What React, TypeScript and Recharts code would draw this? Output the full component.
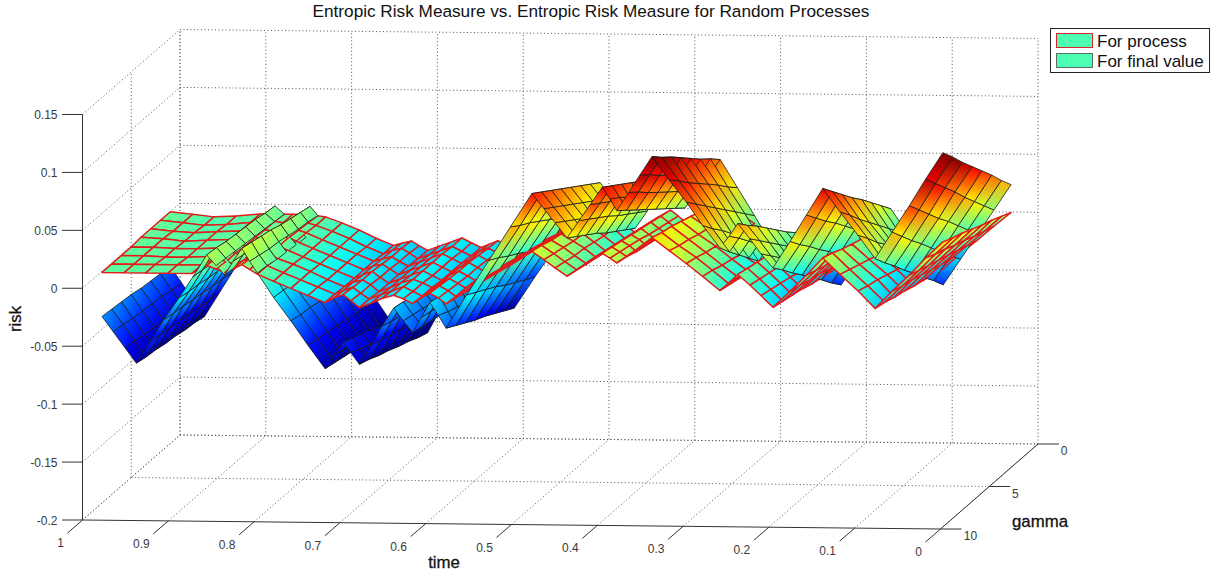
import { ScatterChart, Scatter, XAxis, YAxis } from 'recharts'

const WIDTH = 1221
const HEIGHT = 573

const TITLE = 'Entropic Risk Measure vs. Entropic Risk Measure for Random Processes'
const LEGEND_LABELS = ['For process', 'For final value']
const TIME_TICKS = [1, 0.9, 0.8, 0.7, 0.6, 0.5, 0.4, 0.3, 0.2, 0.1, 0]
const GAMMA_TICKS = [0, 5, 10]
const RISK_TICKS = [-0.2, -0.15, -0.1, -0.05, 0, 0.05, 0.1, 0.15]
const GAMMAS = [1, 2, 3, 4, 5, 6, 7, 8]

const FINAL_TIMES = [
  1, 0.987, 0.973, 0.96, 0.944, 0.928, 0.91, 0.894, 0.878, 0.867, 0.857, 0.847, 0.837, 0.828, 0.819, 0.8, 0.78,
  0.76, 0.74, 0.73, 0.719, 0.71, 0.7, 0.686, 0.674, 0.66, 0.649, 0.638, 0.628, 0.618, 0.608, 0.599, 0.575, 0.549,
  0.524, 0.499, 0.485, 0.472, 0.458, 0.444, 0.431, 0.417, 0.408, 0.4, 0.386, 0.373, 0.359, 0.339, 0.319, 0.3, 0.28,
  0.269, 0.259, 0.245, 0.232, 0.218, 0.198, 0.179, 0.16, 0.14, 0.119, 0.099, 0.079, 0.059, 0.04, 0.02,
]

const PROCESS_TIMES = [
  1, 0.974, 0.949, 0.923, 0.895, 0.878, 0.867, 0.857, 0.847, 0.837, 0.828, 0.819, 0.8, 0.78, 0.76, 0.74, 0.73,
  0.719, 0.71, 0.7, 0.686, 0.674, 0.66, 0.649, 0.638, 0.628, 0.618, 0.608, 0.599, 0.575, 0.549, 0.524, 0.499, 0.485,
  0.472, 0.458, 0.444, 0.431, 0.417, 0.408, 0.4, 0.386, 0.373, 0.359, 0.339, 0.319, 0.3, 0.28, 0.269, 0.259, 0.245,
  0.232, 0.218, 0.198, 0.179, 0.16, 0.14, 0.119, 0.099, 0.079, 0.059, 0.04, 0.02,
]

// risk x 1000, one row per time, one column per gamma
const FINAL_RISK = [
  [-47, -46, -45, -44, -42, -41, -40, -39],
  [-61, -60, -58, -57, -56, -55, -53, -52],
  [-76, -75, -73, -72, -70, -69, -67, -66],
  [-90, -88, -87, -85, -84, -82, -81, -79],
  [-71, -69, -68, -66, -65, -63, -62, -60],
  [-52, -50, -49, -47, -46, -44, -43, -41],
  [-33, -31, -30, -28, -27, -25, -24, -22],
  [-13, -12, -10, -9, -8, -7, -5, -4],
  [6, 7, 9, 10, 11, 12, 14, 15],
  [-1, 0, 1, 2, 3, 4, 5, 6],
  [-8, -7, -6, -5, -5, -4, -3, -2],
  [-1, 1, 2, 4, 5, 7, 8, 10],
  [6, 8, 10, 12, 15, 17, 19, 21],
  [-2, 0, 1, 3, 5, 6, 8, 10],
  [-9, -8, -6, -5, -4, -3, -1, 0],
  [-31, -30, -28, -27, -25, -24, -22, -21],
  [-52, -50, -49, -47, -46, -44, -43, -41],
  [-74, -72, -71, -69, -67, -65, -64, -62],
  [-96, -94, -92, -90, -88, -86, -84, -82],
  [-90, -87, -84, -81, -79, -76, -73, -70],
  [-85, -81, -78, -74, -70, -66, -63, -59],
  [-93, -89, -86, -82, -79, -75, -72, -68],
  [-102, -99, -95, -92, -88, -85, -81, -78],
  [-83, -80, -77, -74, -70, -67, -64, -61],
  [-64, -61, -59, -56, -53, -50, -48, -45],
  [-45, -43, -40, -38, -36, -34, -31, -29],
  [-55, -53, -51, -49, -46, -44, -42, -40],
  [-65, -63, -61, -59, -56, -54, -52, -50],
  [-52, -50, -48, -46, -43, -41, -39, -37],
  [-40, -38, -35, -33, -31, -29, -26, -24],
  [-60, -56, -53, -49, -46, -42, -39, -35],
  [-80, -75, -70, -65, -61, -56, -51, -46],
  [-53, -48, -43, -38, -32, -27, -22, -17],
  [-25, -20, -14, -9, -3, 2, 8, 13],
  [2, 8, 13, 19, 25, 31, 36, 42],
  [29, 35, 41, 47, 53, 59, 65, 71],
  [16, 22, 28, 34, 40, 46, 52, 58],
  [3, 9, 15, 21, 28, 34, 40, 46],
  [-10, -4, 2, 8, 15, 21, 27, 33],
  [5, 11, 17, 23, 30, 36, 42, 48],
  [20, 26, 32, 38, 44, 50, 56, 62],
  [35, 41, 47, 53, 59, 65, 71, 77],
  [22, 28, 35, 41, 48, 54, 61, 67],
  [8, 15, 22, 29, 36, 43, 50, 57],
  [22, 29, 37, 44, 51, 58, 66, 73],
  [36, 43, 51, 58, 66, 73, 81, 88],
  [50, 58, 65, 73, 81, 89, 96, 104],
  [26, 34, 43, 51, 59, 67, 76, 84],
  [2, 11, 20, 29, 38, 47, 56, 65],
  [-22, -12, -3, 7, 16, 26, 35, 45],
  [-46, -36, -25, -15, -5, 5, 15, 26],
  [-30, -21, -11, -2, 7, 17, 27, 36],
  [-14, -5, 3, 12, 21, 30, 38, 47],
  [-28, -19, -10, -2, 7, 16, 25, 34],
  [-43, -34, -25, -16, -6, 3, 12, 21],
  [-57, -48, -38, -29, -19, -10, 0, 9],
  [-35, -25, -16, -6, 3, 13, 22, 32],
  [-13, -3, 6, 16, 26, 35, 45, 55],
  [9, 19, 29, 39, 48, 58, 68, 78],
  [-13, -3, 7, 17, 27, 37, 48, 58],
  [-34, -24, -13, -3, 8, 17, 28, 38],
  [-56, -45, -35, -24, -14, -3, 7, 18],
  [-34, -23, -13, -2, 9, 19, 30, 41],
  [-12, -1, 10, 21, 31, 42, 53, 64],
  [9, 20, 31, 42, 54, 65, 76, 87],
  [31, 42, 54, 65, 76, 87, 99, 110],
]

const PROCESS_RISK = [
  [0, 0, 0, 0, -1, -1, -1, -1],
  [-2, -2, -2, -1, -1, -1, -1, -1],
  [-4, -4, -3, -3, -2, -2, -1, -1],
  [-3, -3, -2, -2, -2, -2, -1, -1],
  [-1, -1, -1, -1, -1, -1, -1, -1],
  [0, 1, 2, 3, 3, 4, 5, 6],
  [-1, 0, 0, 1, 1, 2, 2, 3],
  [-1, -1, -1, -1, -1, 0, 0, 0],
  [-1, 0, 0, 1, 2, 2, 3, 3],
  [-1, 0, 1, 2, 3, 4, 6, 7],
  [-2, -1, 0, 1, 1, 2, 2, 3],
  [-3, -3, -2, -2, -2, -2, -1, -1],
  [-8, -8, -8, -8, -8, -7, -7, -7],
  [-14, -14, -14, -14, -14, -13, -13, -13],
  [-21, -21, -20, -20, -20, -20, -19, -19],
  [-27, -27, -26, -26, -26, -26, -25, -25],
  [-25, -24, -24, -23, -23, -22, -22, -21],
  [-23, -22, -22, -21, -20, -20, -19, -18],
  [-27, -26, -26, -25, -25, -24, -24, -23],
  [-31, -31, -30, -30, -30, -30, -29, -29],
  [-27, -27, -26, -26, -26, -26, -25, -25],
  [-24, -24, -23, -23, -23, -22, -22, -21],
  [-20, -20, -19, -19, -19, -19, -18, -18],
  [-24, -24, -23, -23, -23, -22, -22, -21],
  [-28, -28, -27, -27, -27, -26, -26, -25],
  [-25, -24, -24, -23, -22, -22, -21, -20],
  [-22, -21, -20, -19, -19, -18, -17, -16],
  [-26, -25, -24, -23, -23, -22, -21, -20],
  [-29, -28, -28, -27, -27, -26, -26, -25],
  [-21, -20, -19, -18, -17, -16, -15, -14],
  [-12, -11, -9, -8, -6, -5, -3, -2],
  [-3, -1, 0, 2, 4, 6, 7, 9],
  [5, 7, 10, 12, 14, 16, 19, 21],
  [1, 3, 5, 7, 8, 10, 12, 14],
  [-5, -3, -2, 0, 2, 3, 5, 7],
  [-14, -12, -10, -8, -6, -4, -2, 0],
  [-7, -5, -3, -1, 1, 3, 5, 7],
  [0, 2, 4, 6, 8, 10, 12, 14],
  [6, 8, 10, 12, 14, 16, 18, 20],
  [1, 3, 5, 7, 10, 12, 14, 16],
  [-4, -2, 1, 3, 5, 7, 10, 12],
  [2, 4, 7, 9, 12, 14, 17, 19],
  [9, 11, 14, 16, 19, 21, 24, 26],
  [15, 18, 20, 23, 26, 29, 31, 34],
  [5, 8, 10, 13, 15, 18, 20, 23],
  [-5, -3, 0, 2, 5, 7, 10, 12],
  [-15, -13, -11, -9, -6, -4, -1, 1],
  [-25, -23, -21, -19, -17, -15, -13, -11],
  [-18, -16, -14, -12, -10, -8, -6, -4],
  [-12, -10, -8, -6, -3, -1, 1, 3],
  [-21, -19, -17, -15, -12, -10, -8, -6],
  [-30, -28, -26, -24, -21, -19, -17, -15],
  [-40, -38, -36, -34, -31, -29, -27, -25],
  [-28, -26, -23, -21, -18, -16, -13, -11],
  [-17, -14, -12, -9, -6, -3, 0, 3],
  [-5, -2, 1, 5, 8, 11, 15, 18],
  [-17, -14, -11, -8, -5, -2, 1, 4],
  [-29, -26, -24, -21, -18, -15, -13, -10],
  [-42, -40, -37, -35, -32, -30, -27, -25],
  [-29, -26, -24, -21, -18, -15, -13, -10],
  [-17, -14, -11, -8, -5, -2, 1, 4],
  [-5, -2, 1, 5, 8, 12, 15, 19],
  [7, 11, 15, 18, 22, 26, 29, 33],
]

// fixed 3d view of the plot box, flattened to chart units
function project(t: number, g: number, r: number) {
  return {
    x: 82.5 + (1 - t) * 858 + (10 - g) * 9.75,
    y: 520 + (1 - t) * 9 - (10 - g) * 8.5 - (r + 0.2) * 1158.6,
  }
}

function jet(r: number) {
  const p = Math.min(1, Math.max(0, (r + 0.088) / 0.186))
  const c = (v: number) => Math.round(255 * Math.min(1, Math.max(0, 1.5 - Math.abs(4 * p - v))))
  return `rgb(${c(3)},${c(2)},${c(1)})`
}

type Cell = { risks: number[]; stroke: string; width: number; depth: number; corners: { x: number; y: number }[] }

function buildCells(times: number[], rows: number[][], stroke: string, width: number): Cell[] {
  const cells: Cell[] = []
  for (let i = 0; i < times.length - 1; i++) {
    for (let j = 0; j < GAMMAS.length - 1; j++) {
      const verts: [number, number, number][] = [
        [times[i], GAMMAS[j], rows[i][j] / 1000],
        [times[i + 1], GAMMAS[j], rows[i + 1][j] / 1000],
        [times[i + 1], GAMMAS[j + 1], rows[i + 1][j + 1] / 1000],
        [times[i], GAMMAS[j + 1], rows[i][j + 1] / 1000],
      ]
      const mean = (k: number) => (verts[0][k] + verts[1][k] + verts[2][k] + verts[3][k]) / 4
      cells.push({
        risks: verts.map(v => v[2]),
        stroke,
        width,
        depth: (0.978 * mean(1)) / 10 + (0.206 * (mean(2) + 0.2)) / 0.35 + 0.11 * (1 - mean(0)),
        corners: verts.map(v => project(v[0], v[1], v[2])),
      })
    }
  }
  return cells
}

const CELLS = [
  ...buildCells(FINAL_TIMES, FINAL_RISK, '#1c1c1c', 0.8),
  ...buildCells(PROCESS_TIMES, PROCESS_RISK, '#e21c1c', 1.5),
].sort((a, b) => a.depth - b.depth)

const CELL_POINTS = CELLS.flatMap(c => c.corners)

function renderCells(props: any) {
  const pts = props.points as { x: number; y: number }[]
  return (
    <g>
      {CELLS.map((cell, n) => {
        const quad = pts.slice(n * 4, n * 4 + 4)
        let lo = 0
        let hi = 0
        cell.risks.forEach((r, k) => {
          if (r < cell.risks[lo]) lo = k
          if (r > cell.risks[hi]) hi = k
        })
        const id = `cell-${n}`
        return (
          <g key={id}>
            <defs>
              <linearGradient id={id} gradientUnits="userSpaceOnUse" x1={quad[lo].x} y1={quad[lo].y} x2={quad[hi].x} y2={quad[hi].y}>
                <stop offset="0" stopColor={jet(cell.risks[lo])} />
                <stop offset="1" stopColor={jet(cell.risks[hi])} />
              </linearGradient>
            </defs>
            <polygon
              points={quad.map(p => `${p.x},${p.y}`).join(' ')}
              fill={`url(#${id})`}
              stroke={cell.stroke}
              strokeWidth={cell.width}
              strokeLinejoin="round"
            />
          </g>
        )
      })}
    </g>
  )
}

const seg = (a: { x: number; y: number }, b: { x: number; y: number }) => [a, b]

const GRID_POINTS = [
  ...RISK_TICKS.flatMap(r => [
    ...seg(project(1, 10, r), project(1, 0, r)),
    ...seg(project(1, 0, r), project(0, 0, r)),
  ]),
  ...TIME_TICKS.flatMap(t => [
    ...seg(project(t, 10, -0.2), project(t, 0, -0.2)),
    ...seg(project(t, 0, -0.2), project(t, 0, 0.15)),
  ]),
  ...GAMMA_TICKS.flatMap(g => [
    ...seg(project(1, g, -0.2), project(0, g, -0.2)),
    ...seg(project(1, g, -0.2), project(1, g, 0.15)),
  ]).slice(0, 8),
]

const shift = (p: { x: number; y: number }, dx: number, dy: number) => ({ x: p.x + dx, y: p.y + dy })

const AXIS_POINTS = [
  ...seg(project(1, 10, -0.2), project(1, 10, 0.15)),
  ...seg(project(1, 10, -0.2), project(0, 10, -0.2)),
  ...seg(project(0, 10, -0.2), project(0, 0, -0.2)),
  ...RISK_TICKS.flatMap(r => seg(project(1, 10, r), shift(project(1, 10, r), -20.5, 0))),
  ...TIME_TICKS.flatMap(t => seg(project(t, 10, -0.2), shift(project(t, 10, -0.2), -15, 13))),
  ...GAMMA_TICKS.flatMap(g => seg(project(0, g, -0.2), shift(project(0, g, -0.2), 21, 0))),
]

const TICK_LABELS = [
  ...RISK_TICKS.map(r => ({ ...shift(project(1, 10, r), -25, 0.5), label: String(r), anchor: 'end' })),
  ...TIME_TICKS.map(t => ({
    ...shift(project(t, 10, -0.2), String(t).length === 1 ? -22 : -27, 23),
    label: String(t),
    anchor: 'middle',
  })),
  ...GAMMA_TICKS.map(g => ({ ...shift(project(0, g, -0.2), g === 10 ? 30 : 26, 7), label: String(g), anchor: 'middle' })),
]

const AXIS_TITLES = [
  { x: 444, y: 562, label: 'time', rotate: 0 },
  { x: 1040, y: 521, label: 'gamma', rotate: 0 },
  { x: 15, y: 319, label: 'risk', rotate: -90 },
]

function segments(stroke: string, width: number, dash?: string) {
  return (props: any) => {
    const pts = props.points as { x: number; y: number }[]
    const lines = []
    for (let i = 0; i + 1 < pts.length; i += 2) {
      lines.push(
        <line key={i} x1={pts[i].x} y1={pts[i].y} x2={pts[i + 1].x} y2={pts[i + 1].y} stroke={stroke} strokeWidth={width} strokeDasharray={dash} />,
      )
    }
    return <g>{lines}</g>
  }
}

const noDot = () => <g />

function TickText(p: any) {
  return (
    <text x={p.cx} y={p.cy} textAnchor={p.payload.anchor} dominantBaseline="central" fontSize={12} fill="#3a3a3a" fontFamily="Liberation Sans">
      {p.payload.label}
    </text>
  )
}

function AxisTitle(p: any) {
  return (
    <text
      x={p.cx}
      y={p.cy}
      textAnchor="middle"
      dominantBaseline="central"
      fontSize={16.8}
      fill="#111"
      stroke="#111"
      strokeWidth={0.3}
      fontFamily="Liberation Sans"
      transform={p.payload.rotate ? `rotate(${p.payload.rotate} ${p.cx} ${p.cy})` : undefined}
    >
      {p.payload.label}
    </text>
  )
}

function TitleText(p: any) {
  return (
    <text x={p.cx} y={p.cy} textAnchor="middle" dominantBaseline="central" fontSize={17.2} fill="#111" fontFamily="Liberation Sans">
      {p.payload.label}
    </text>
  )
}

function LegendBox() {
  const patch = (border: string, top: number) => ({
    position: 'absolute' as const,
    left: 5,
    top,
    width: 35,
    height: 13,
    background: '#4dffb2',
    border: `1.5px solid ${border}`,
  })
  return (
    <div
      style={{
        position: 'absolute',
        left: 1050,
        top: 28,
        width: 158,
        height: 43,
        border: '1px solid #222',
        background: '#fff',
        fontFamily: 'Liberation Sans',
        fontSize: 17,
        color: '#111',
      }}
    >
      {LEGEND_LABELS.map((label, i) => (
        <div key={label}>
          <div style={patch(i === 0 ? '#d8262c' : '#5f6f68', 4 + i * 20)} />
          <div style={{ position: 'absolute', left: 46, top: 5 + i * 20, lineHeight: '16px', whiteSpace: 'nowrap' }}>{label}</div>
        </div>
      ))}
    </div>
  )
}

export default function App() {
  return (
    <div style={{ position: 'absolute', left: 0, top: 0, width: WIDTH, height: HEIGHT, background: '#fff' }}>
      <ScatterChart width={WIDTH} height={HEIGHT} margin={{ top: 0, right: 0, bottom: 0, left: 0 }}>
        <XAxis type="number" dataKey="x" domain={[0, WIDTH]} hide />
        <YAxis type="number" dataKey="y" domain={[0, HEIGHT]} reversed hide />
        <Scatter data={GRID_POINTS} line={segments('#555', 1, '1 2.5')} shape={noDot} isAnimationActive={false} />
        <Scatter data={CELL_POINTS} line={renderCells} shape={noDot} isAnimationActive={false} />
        <Scatter data={AXIS_POINTS} line={segments('#333', 1)} shape={noDot} isAnimationActive={false} />
        <Scatter data={TICK_LABELS} shape={TickText} isAnimationActive={false} />
        <Scatter data={AXIS_TITLES} shape={AxisTitle} isAnimationActive={false} />
        <Scatter data={[{ x: 591, y: 11, label: TITLE }]} shape={TitleText} isAnimationActive={false} />
      </ScatterChart>
      <LegendBox />
    </div>
  )
}
